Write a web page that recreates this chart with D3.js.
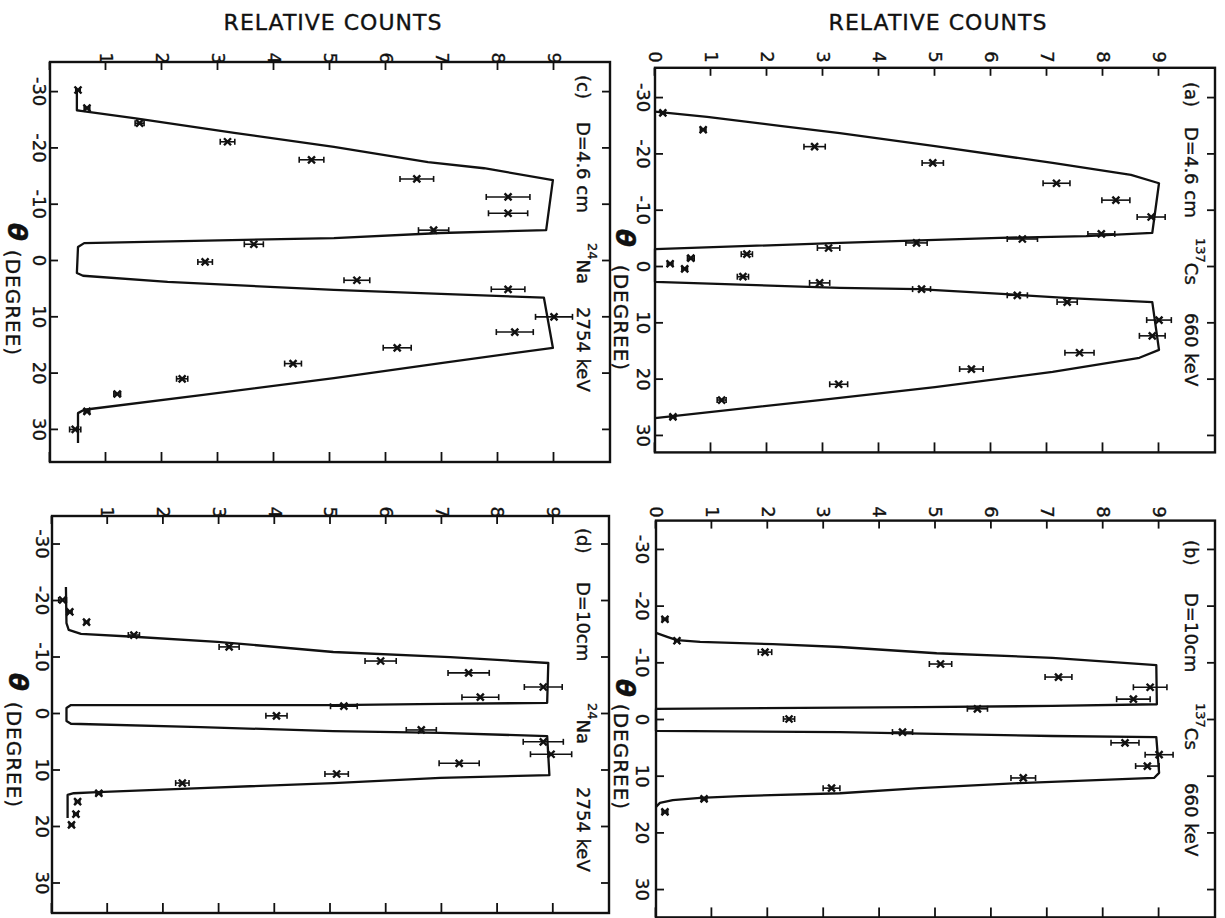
<!DOCTYPE html>
<html>
<head>
<meta charset="utf-8">
<script src="https://cdn.jsdelivr.net/npm/d3@7"></script>
<style>
  body { margin: 0; background: #fff; }
  svg { display: block; }
  text { font-family: "DejaVu Sans", sans-serif; fill: #111; stroke: #111; stroke-width: 0.35px; }
</style>
</head>
<body>
<div class="chart"></div>
<script>
const width = 1225;
const height = 918;

// tick values
const thetaTicks = [-30, -20, -10, 0, 10, 20, 30];
const countTicks = [0, 1, 2, 3, 4, 5, 6, 7, 8, 9];

// calculated response curves, [theta (deg), relative counts]
const curveA = [[-27.4,0],[-26.5,0.93],[-24.9,2.23],[-23.6,3.3],[-21.3,5.0],[-18.3,7.1],[-16.2,8.5],[-14.7,9.0],
  [-5.9,8.88],[-5.3,7.7],[-5.0,6.15],[-4.1,3.3],[-3.0,0],[2.8,0],[3.9,3.3],[4.1,4.7],[5.0,6.27],[5.7,7.4],[6.4,8.88],
  [14.9,9.0],[16.3,8.65],[18.8,7.1],[21.5,5.0],[23.8,2.94],[27.0,0]];
const curveB = [[-15.2,0],[-14.5,0.2],[-13.9,0.375],[-13.6,0.79],[-13.2,2.09],[-12.7,3.29],[-11.6,5.02],[-10.8,7.09],[-9.5,8.95],
  [-2.6,8.96],[-2.3,7.09],[-2.1,4.71],[-1.8,0],[2.1,0],[2.3,3.29],[3.0,7.09],[3.2,8.95],
  [9.5,9.0],[10.4,8.91],[11.3,6.5],[12.2,4.71],[13.1,3.29],[13.6,1.5],[13.9,0.79],[14.3,0.3],[14.8,0.07],[15.5,0]];
const curveC = [[-30.2,0.48],[-26.6,0.48],[-26.5,0.55],[-25.2,1.5],[-22.6,3.29],[-20.1,5.07],[-17.4,6.75],[-16.3,7.75],[-14.2,8.98],
  [-5.3,8.86],[-4.8,6.98],[-3.9,5.07],[-3.0,0.61],[-2.3,0.5],[2.3,0.48],[2.8,0.59],[3.9,2.1],[5.3,5.07],[6.0,6.98],[6.7,8.82],
  [15.6,8.98],[18.3,6.98],[21.0,5.07],[24.0,2.7],[26.6,0.61],[27.2,0.5],[32.5,0.5]];
const curveD = [[-22.3,0.25],[-15.9,0.26],[-14.7,0.3],[-14.0,0.52],[-13.5,1.47],[-12.6,2.97],[-10.8,5.05],[-9.9,7.15],[-8.85,8.91],
  [-1.8,8.89],[-1.6,6.97],[-1.4,5.05],[-1.4,0.34],[-0.9,0.26],[1.4,0.26],[1.9,0.34],[2.5,2.67],[3.2,5.05],[3.5,6.97],[4.1,8.89],
  [11.0,8.93],[11.5,6.97],[12.4,5.05],[13.3,2.67],[14.0,0.82],[14.2,0.39],[14.5,0.28],[18.6,0.28]];

// measurements, [theta (deg), relative counts, error]
const pointsA = [[-27.2,0.14,0.04],[-24.2,0.86,0.05],[-21.2,2.85,0.19],[-18.3,4.96,0.19],[-14.7,7.17,0.24],[-11.7,8.23,0.25],
  [-8.7,8.86,0.25],[-5.7,7.97,0.24],[-4.8,6.56,0.27],[-4.1,4.67,0.19],[-3.2,3.1,0.2],[-2.1,1.64,0.1],[-1.4,0.64,0.06],
  [-0.4,0.27,0.05],[0.5,0.53,0.05],[1.9,1.57,0.1],[3.0,2.94,0.18],[4.1,4.76,0.16],[5.2,6.47,0.18],[6.4,7.36,0.18],
  [9.6,9.0,0.22],[12.4,8.88,0.23],[15.4,7.58,0.26],[18.3,5.65,0.21],[21.0,3.28,0.16],[23.8,1.19,0.08],[26.8,0.32,0.05]];
const pointsB = [[-17.6,0.16,0.05],[-13.8,0.375,0.04],[-11.8,1.95,0.12],[-9.7,5.09,0.2],[-7.4,7.2,0.24],[-5.6,8.84,0.3],
  [-3.5,8.54,0.3],[-1.8,5.75,0.18],[0.0,2.38,0.1],[2.3,4.41,0.18],[4.2,8.39,0.25],[6.3,9.0,0.25],[8.3,8.79,0.21],
  [10.4,6.57,0.22],[12.2,3.14,0.15],[14.1,0.86,0.05],[16.4,0.16,0.05]];
const pointsC = [[-30.2,0.5,0.04],[-27.0,0.66,0.05],[-24.3,1.6,0.08],[-21.0,3.17,0.13],[-17.8,4.67,0.22],[-14.4,6.55,0.3],
  [-11.2,8.18,0.39],[-8.3,8.18,0.35],[-5.3,6.85,0.27],[-2.8,3.64,0.17],[0.35,2.77,0.13],[3.6,5.48,0.23],[5.2,8.18,0.3],
  [10.1,9.0,0.33],[12.8,8.3,0.33],[15.6,6.2,0.25],[18.4,4.34,0.15],[21.1,2.36,0.1],[23.8,1.2,0.06],[26.9,0.66,0.05],[30.1,0.45,0.1]];
const pointsD = [[-20.0,0.19,0.07],[-17.9,0.32,0.04],[-16.1,0.62,0.04],[-13.8,1.47,0.1],[-11.7,3.18,0.18],[-9.2,5.9,0.28],
  [-7.1,7.48,0.37],[-4.6,8.82,0.34],[-2.8,7.69,0.33],[-1.2,5.24,0.24],[0.5,4.03,0.19],[3.0,6.63,0.27],[5.1,8.82,0.36],
  [7.3,8.96,0.37],[8.9,7.31,0.36],[10.8,5.11,0.21],[12.4,2.34,0.12],[14.2,0.84,0.05],[15.7,0.46,0.04],[17.9,0.43,0.04],[19.8,0.35,0.04]];

// panel texts
const panelLetters = ['(a)', '(b)', '(c)', '(d)'];
const distances = ['D=4.6 cm', 'D=10cm', 'D=4.6 cm', 'D=10cm'];
const isotopes = [['137', 'Cs'], ['137', 'Cs'], ['24', 'Na'], ['24', 'Na']];
const energies = ['660 keV', '660 keV', '2754 keV', '2754 keV'];

// The figure is drawn upright (theta along x, counts along y) and then
// turned 90deg clockwise, as in the printed page.
const panels = [
  {curve: curveA, points: pointsA, theta: [-35.2, 33.1], x: [67.8, 452.4], y: [570, 10], zero: true,
   thetaPad: 5, countPad: 5, txt: {base: 40, letter: 82, dist: 127, iso: 238, en: 313}, tl: {sym: 238, deg: 318, y: 600}},
  {curve: curveB, points: pointsB, theta: [-35, 35], x: [520.6, 917.4], y: [569, 10], zero: true,
   thetaPad: 7, countPad: 3, txt: {base: 40, letter: 540, dist: 593, iso: 703, en: 783}, tl: {sym: 688, deg: 757, y: 600}},
  {curve: curveC, points: pointsC, theta: [-35.17, 35.88], x: [62, 462], y: [1175, 615], zero: false,
   thetaPad: 4, countPad: -2, txt: {base: 648, letter: 75, dist: 122, iso: 243, en: 307}, tl: {sym: 232, deg: 303, y: 1208}},
  {curve: curveD, points: pointsD, theta: [-34.87, 35.4], x: [516, 913], y: [1173, 616], zero: false,
   thetaPad: 3, countPad: -2, txt: {base: 648, letter: 528, dist: 582, iso: 703, en: 787}, tl: {sym: 682, deg: 755, y: 1207}}
];

const svg = d3.select('.chart').append('svg')
  .attr('width', width)
  .attr('height', height);

svg.append('rect').attr('width', width).attr('height', height).attr('fill', '#fff');

const root = svg.append('g')
  .attr('transform', `translate(${width},0) rotate(90)`);

const ink = '#111';

panels.forEach((p, i) => {
  const x = d3.scaleLinear().domain(p.theta).range(p.x);
  const y = d3.scaleLinear().domain([0, 10]).range(p.y);
  const g = root.append('g');

  const styleAxis = a => {
    a.select('.domain').remove();
    a.selectAll('line').attr('stroke', ink).attr('stroke-width', 1.8);
    a.selectAll('text').attr('fill', ink);
    a.attr('font-size', 18).attr('font-family', '"DejaVu Sans", sans-serif');
  };

  g.append('g')
    .attr('transform', `translate(0,${p.y[0]})`)
    .call(d3.axisBottom(x).tickValues(thetaTicks).tickFormat(d => String(d))
      .tickSizeInner(-8).tickSizeOuter(0).tickPadding(p.thetaPad))
    .call(styleAxis);

  g.append('g')
    .attr('transform', `translate(0,${p.y[1]})`)
    .call(d3.axisTop(x).tickValues(thetaTicks).tickFormat('')
      .tickSizeInner(-8).tickSizeOuter(0))
    .call(styleAxis);

  g.append('g')
    .attr('transform', `translate(${p.x[0]},0)`)
    .call(d3.axisLeft(y).tickValues(countTicks)
      .tickFormat(d => (d === 0 && !p.zero) ? '' : String(d))
      .tickSizeInner(-8).tickSizeOuter(0).tickPadding(p.countPad))
    .call(styleAxis);

  g.append('g')
    .attr('transform', `translate(${p.x[1]},0)`)
    .call(d3.axisRight(y).tickValues(countTicks).tickFormat('')
      .tickSizeInner(-10).tickSizeOuter(0))
    .call(styleAxis);

  // frame
  g.append('rect')
    .attr('x', p.x[0]).attr('y', p.y[1])
    .attr('width', p.x[1] - p.x[0]).attr('height', p.y[0] - p.y[1])
    .attr('fill', 'none').attr('stroke', ink).attr('stroke-width', 2.4);

  // curve
  g.append('path')
    .datum(p.curve)
    .attr('fill', 'none')
    .attr('stroke', ink)
    .attr('stroke-width', 2.3)
    .attr('stroke-linejoin', 'round')
    .attr('d', d3.line().x(d => x(d[0])).y(d => y(d[1])));

  // data points with error bars
  const pts = g.selectAll('.pt').data(p.points).enter().append('g').attr('class', 'pt')
    .attr('transform', d => `translate(${x(d[0])},0)`);
  pts.append('line')
    .attr('x1', 0).attr('x2', 0)
    .attr('y1', d => y(d[1] - d[2])).attr('y2', d => y(d[1] + d[2]))
    .attr('stroke', ink).attr('stroke-width', 1.6);
  [1, -1].forEach(s => {
    pts.append('line')
      .attr('x1', -3).attr('x2', 3)
      .attr('y1', d => y(d[1] + s * d[2])).attr('y2', d => y(d[1] + s * d[2]))
      .attr('stroke', ink).attr('stroke-width', 1.6);
  });
  pts.append('path')
    .attr('d', d => `M-3.5,${y(d[1]) - 3.5}L3.5,${y(d[1]) + 3.5}M-3.5,${y(d[1]) + 3.5}L3.5,${y(d[1]) - 3.5}`)
    .attr('stroke', ink).attr('stroke-width', 2.4);

  // panel annotation
  const t = p.txt;
  g.append('text').attr('x', t.letter).attr('y', t.base).attr('font-size', 18).text(panelLetters[i]);
  g.append('text').attr('x', t.dist).attr('y', t.base).attr('font-size', 18).text(distances[i]);
  const iso = g.append('text').attr('x', t.iso).attr('y', t.base).attr('font-size', 18);
  iso.append('tspan').attr('font-size', 13).attr('dy', -11).text(isotopes[i][0]);
  iso.append('tspan').attr('dy', 11).text(isotopes[i][1]);
  g.append('text').attr('x', t.en).attr('y', t.base).attr('font-size', 18).text(energies[i]);

  // theta axis title
  g.append('text')
    .attr('x', p.tl.sym).attr('y', p.tl.y)
    .attr('text-anchor', 'middle').attr('dominant-baseline', 'central')
    .attr('font-size', 26).attr('font-weight', 'bold').attr('font-style', 'italic')
    .text('θ');
  g.append('text')
    .attr('x', p.tl.deg).attr('y', p.tl.y + 4)
    .attr('text-anchor', 'middle').attr('dominant-baseline', 'central')
    .attr('font-size', 20).attr('letter-spacing', 1)
    .text('(DEGREE)');
});

// y axis titles, one per row of the upright figure
[287, 892].forEach(cy => {
  root.append('text')
    .attr('transform', `translate(22,${cy}) rotate(-90)`)
    .attr('text-anchor', 'middle').attr('dominant-baseline', 'central')
    .attr('font-size', 22).attr('letter-spacing', 1)
    .text('RELATIVE COUNTS');
});
</script>
</body>
</html>
